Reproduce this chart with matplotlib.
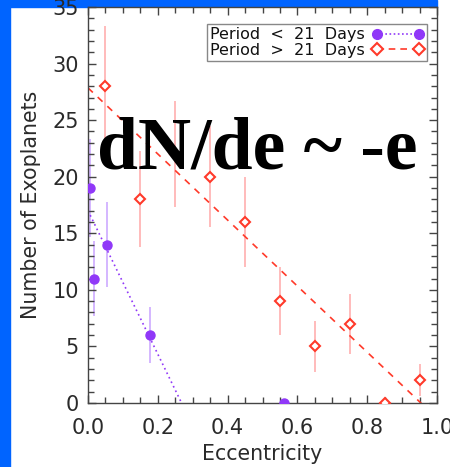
import numpy as np
import matplotlib
matplotlib.use("Agg")
import matplotlib.pyplot as plt
from matplotlib.patches import Rectangle
from matplotlib.ticker import MultipleLocator

# binned counts, Poisson errors sqrt(N)
ecc_short = [0.005, 0.018, 0.055, 0.177, 0.562]
n_short = [19, 11, 14, 6, 0]
ecc_long = [0.05, 0.15, 0.25, 0.35, 0.45, 0.55, 0.65, 0.75, 0.85, 0.95]
n_long = [28, 18, 22, 20, 16, 9, 5, 7, 0, 2]

# linear fits (intercept, slope)
fit_short = (17.0, -63.4)
fit_long = (27.85, -29.2)

labels = ["Period  <  21  Days", "Period  >  21  Days"]

PURPLE = "#9038f8"
PURPLE_LT = "#c9a3ff"
RED = "#ff3a2a"
RED_LT = "#ffa8a8"
BLUE = "#0064ff"
AX = "#444444"

plt.rcParams["font.family"] = "DejaVu Sans"

fig = plt.figure(figsize=(4.5, 4.67), dpi=100)
fig.patches.append(Rectangle((0, 0), 10 / 450, 1, transform=fig.transFigure,
                             color=BLUE, zorder=-5))
fig.patches.append(Rectangle((0, 1 - 7 / 467), 437 / 450, 7 / 467,
                             transform=fig.transFigure, color=BLUE, zorder=-5))
ax = fig.add_axes([88 / 450, 64 / 467, 349 / 450, 396 / 467])

# error bars
ax.vlines(ecc_short, np.array(n_short) - np.sqrt(n_short),
          np.array(n_short) + np.sqrt(n_short), color=PURPLE_LT, lw=1.1, zorder=1)
ax.vlines(ecc_long, np.array(n_long) - np.sqrt(n_long),
          np.array(n_long) + np.sqrt(n_long), color=RED_LT, lw=1.1, zorder=1)

# fit lines
xx = np.linspace(0, 1, 200)
ax.plot(xx, fit_short[0] + fit_short[1] * xx, ls=(0, (1, 2)), color=PURPLE, lw=1.2, zorder=2)
ax.plot(xx, fit_long[0] + fit_long[1] * xx, ls=(0, (4, 4)), color=RED, lw=1.2, zorder=2)

ax.plot(ecc_short, n_short, "o", color=PURPLE, ms=6.5, mec=PURPLE, zorder=3)
ax.plot(ecc_long, n_long, "D", mfc="white", mec=RED, mew=1.5, ms=5.5, zorder=3)

# legend proxies
h1, = ax.plot([], [], ls=(0, (1, 1.5)), color=PURPLE, lw=1.2, marker="o", ms=7)
h2, = ax.plot([], [], ls=(0, (4, 3)), color=RED, lw=1.2, marker="D", ms=6,
              mfc="white", mew=1.5)
leg = ax.legend([h1, h2], labels,
                loc="upper right", bbox_to_anchor=(0.971, 0.957), numpoints=2,
                markerfirst=False, fontsize=11.5, handlelength=3.2,
                handletextpad=0.5, labelspacing=0.05, borderpad=0.2,
                borderaxespad=0, fancybox=False, framealpha=1)
leg.get_frame().set_edgecolor("#888888")
leg.get_frame().set_linewidth(1.0)
for t in leg.get_texts():
    t.set_color("#111111")

ax.text(0.484, 0.593, "dN/de ~ -e", transform=ax.transAxes, ha="center",
        va="baseline", fontsize=53, fontweight="bold", family="Liberation Serif",
        color="black", zorder=5)

ax.set_xlim(0, 1)
ax.set_ylim(0, 35)
ax.xaxis.set_major_locator(MultipleLocator(0.2))
ax.xaxis.set_minor_locator(MultipleLocator(0.05))
ax.yaxis.set_major_locator(MultipleLocator(5))
ax.yaxis.set_minor_locator(MultipleLocator(1))
ax.set_xticklabels([f"{v:.1f}" for v in ax.get_xticks()])
ax.tick_params(which="both", direction="in", top=True, right=True, color=AX,
               width=1.0, labelsize=15, labelcolor="#2a2a2a")
ax.tick_params(which="major", length=6)
ax.tick_params(which="minor", length=4)
ax.tick_params(axis="y", pad=6.5)
ax.tick_params(axis="x", pad=11)
for s in ax.spines.values():
    s.set_color(AX)
    s.set_linewidth(1.0)

ax.set_xlabel("Eccentricity", fontsize=14.8, color="#2a2a2a", labelpad=4)
ax.set_ylabel("Number of Exoplanets", fontsize=14.8, color="#2a2a2a", labelpad=8)

fig.savefig("out.png", dpi=100)
